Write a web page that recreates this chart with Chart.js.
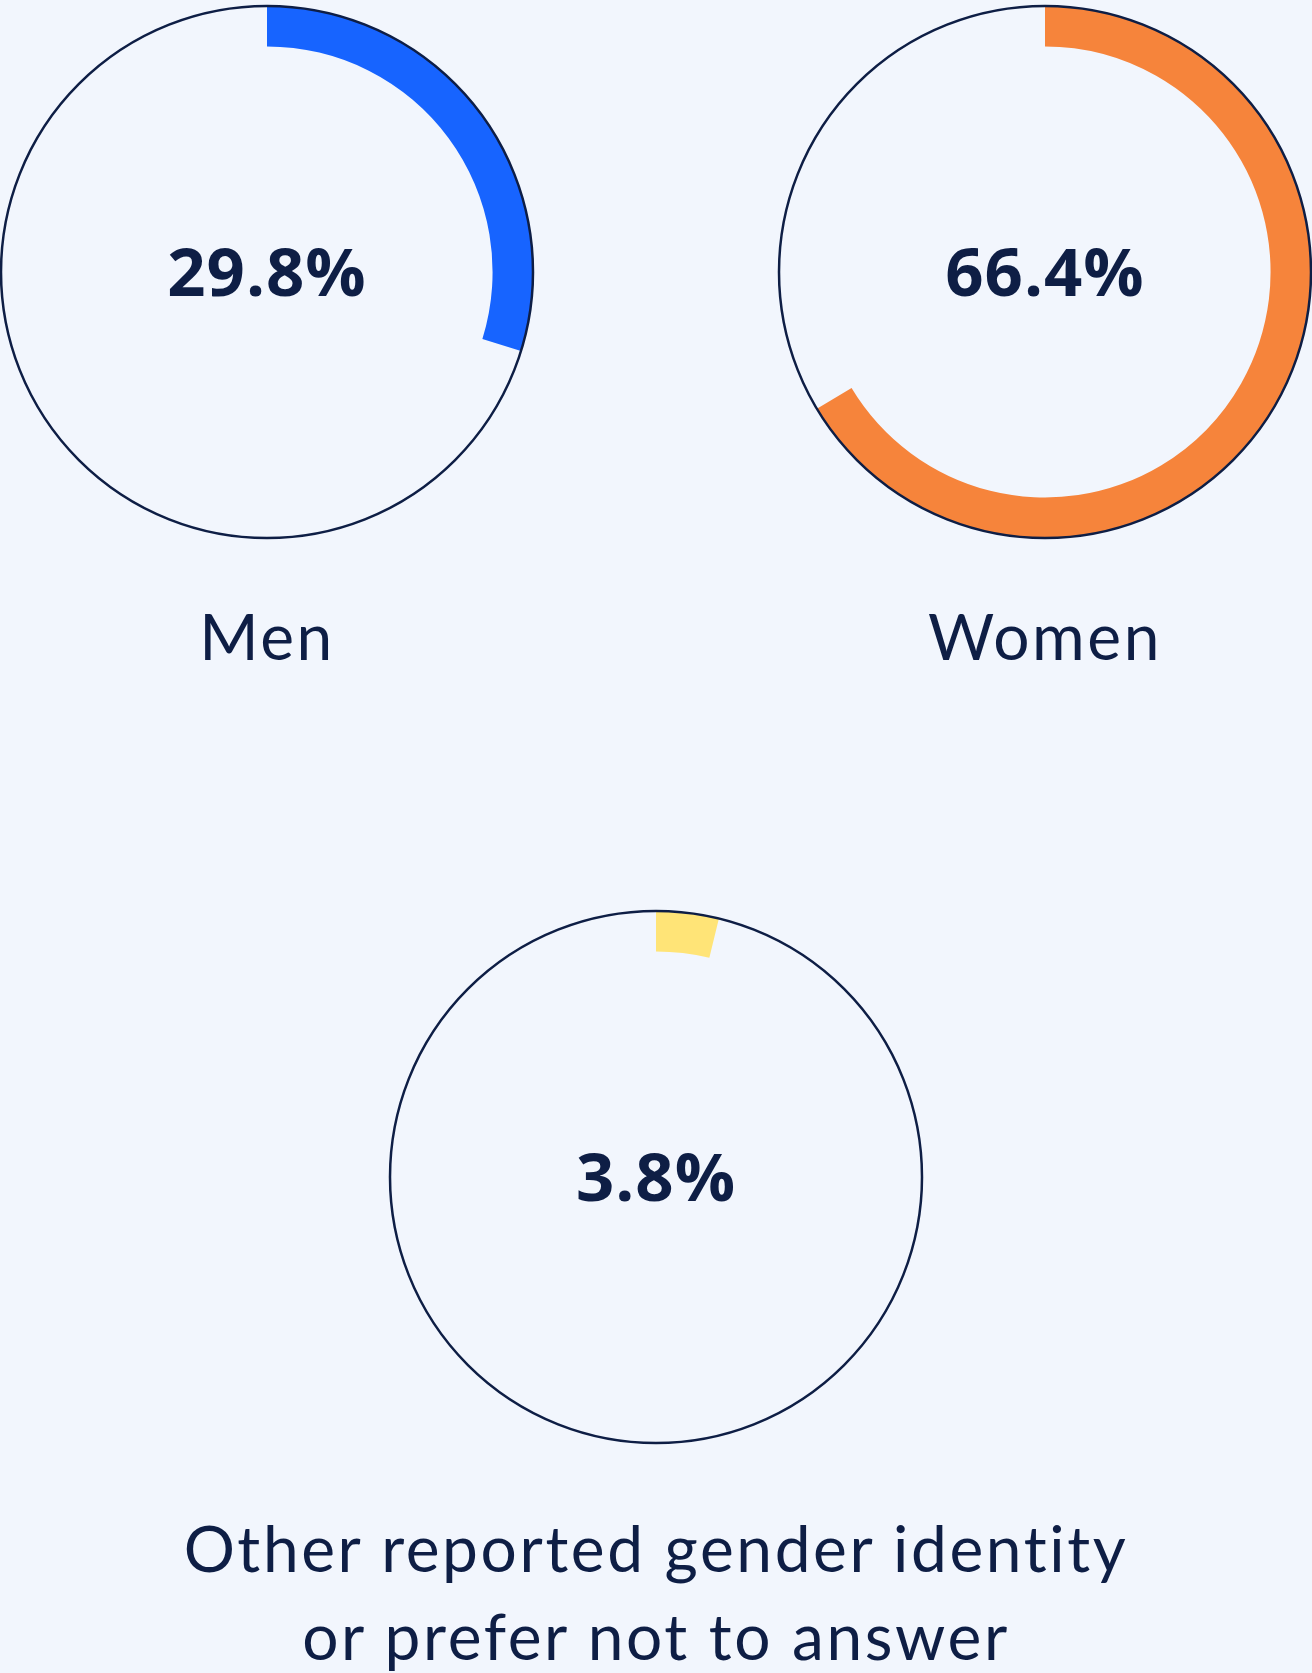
<!DOCTYPE html>
<html>
<head>
<meta charset="utf-8">
<script src="https://cdn.jsdelivr.net/npm/chart.js@4/dist/chart.umd.min.js"></script>
<style>
  html, body { margin: 0; padding: 0; }
  body { width: 1312px; height: 1673px; background: #F2F6FD; position: relative; overflow: hidden; }
  .ring { position: absolute; width: 540px; height: 540px; }
  .label { position: absolute; color: #0E1E45; font-family: Lato, "Open Sans", sans-serif; font-size: 64px; letter-spacing: 2.6px; text-align: center; line-height: 88px; white-space: nowrap; }
</style>
</head>
<body>
<div class="ring" style="left:-3px; top:2px;"><canvas id="c0"></canvas></div>
<div class="ring" style="left:775px; top:2px;"><canvas id="c1"></canvas></div>
<div class="ring" style="left:386px; top:907px;"><canvas id="c2"></canvas></div>

<div class="label" id="l0" style="left:67px; width:400px; top:592px;"></div>
<div class="label" id="l1" style="left:845px; width:400px; top:592px;"></div>
<div class="label" id="l2" style="left:156px; width:1000px; top:1504px;"></div>

<script>
const categories = ['Men', 'Women', 'Other reported gender identity\nor prefer not to answer'];
const shares = [29.8, 66.4, 3.8];
const ringColors = ['#1764FF', '#F6843B', '#FFE477'];

const NAVY = '#0E1E45';

// thin outline + percentage in the middle
const ringDecor = {
  id: 'ringDecor',
  afterDatasetsDraw(chart, args, opts) {
    const arc = chart.getDatasetMeta(0).data[0];
    const ctx = chart.ctx;
    ctx.save();
    ctx.beginPath();
    ctx.arc(arc.x, arc.y, arc.outerRadius, 0, Math.PI * 2);
    ctx.strokeStyle = NAVY;
    ctx.lineWidth = 2.5;
    ctx.stroke();
    ctx.fillStyle = NAVY;
    ctx.font = '700 67px "Open Sans", sans-serif';
    ctx.letterSpacing = '1px';
    ctx.textAlign = 'center';
    ctx.textBaseline = 'alphabetic';
    ctx.fillText(opts.text, arc.x, arc.y + 24);
    ctx.restore();
  }
};

shares.forEach((v, i) => {
  new Chart(document.getElementById('c' + i), {
    type: 'doughnut',
    data: {
      labels: [categories[i], ''],
      datasets: [{
        data: [v, 100 - v],
        backgroundColor: [ringColors[i], 'rgba(0,0,0,0)'],
        borderWidth: 0,
        hoverOffset: 0
      }]
    },
    options: {
      responsive: true,
      maintainAspectRatio: true,
      animation: false,
      cutout: '84.8%',
      layout: { padding: 4 },
      events: [],
      plugins: {
        legend: { display: false },
        tooltip: { enabled: false },
        ringDecor: { text: v.toFixed(1) + '%' }
      }
    },
    plugins: [ringDecor]
  });
  document.getElementById('l' + i).innerHTML = categories[i].replace('\n', '<br>');
});
</script>
</body>
</html>
